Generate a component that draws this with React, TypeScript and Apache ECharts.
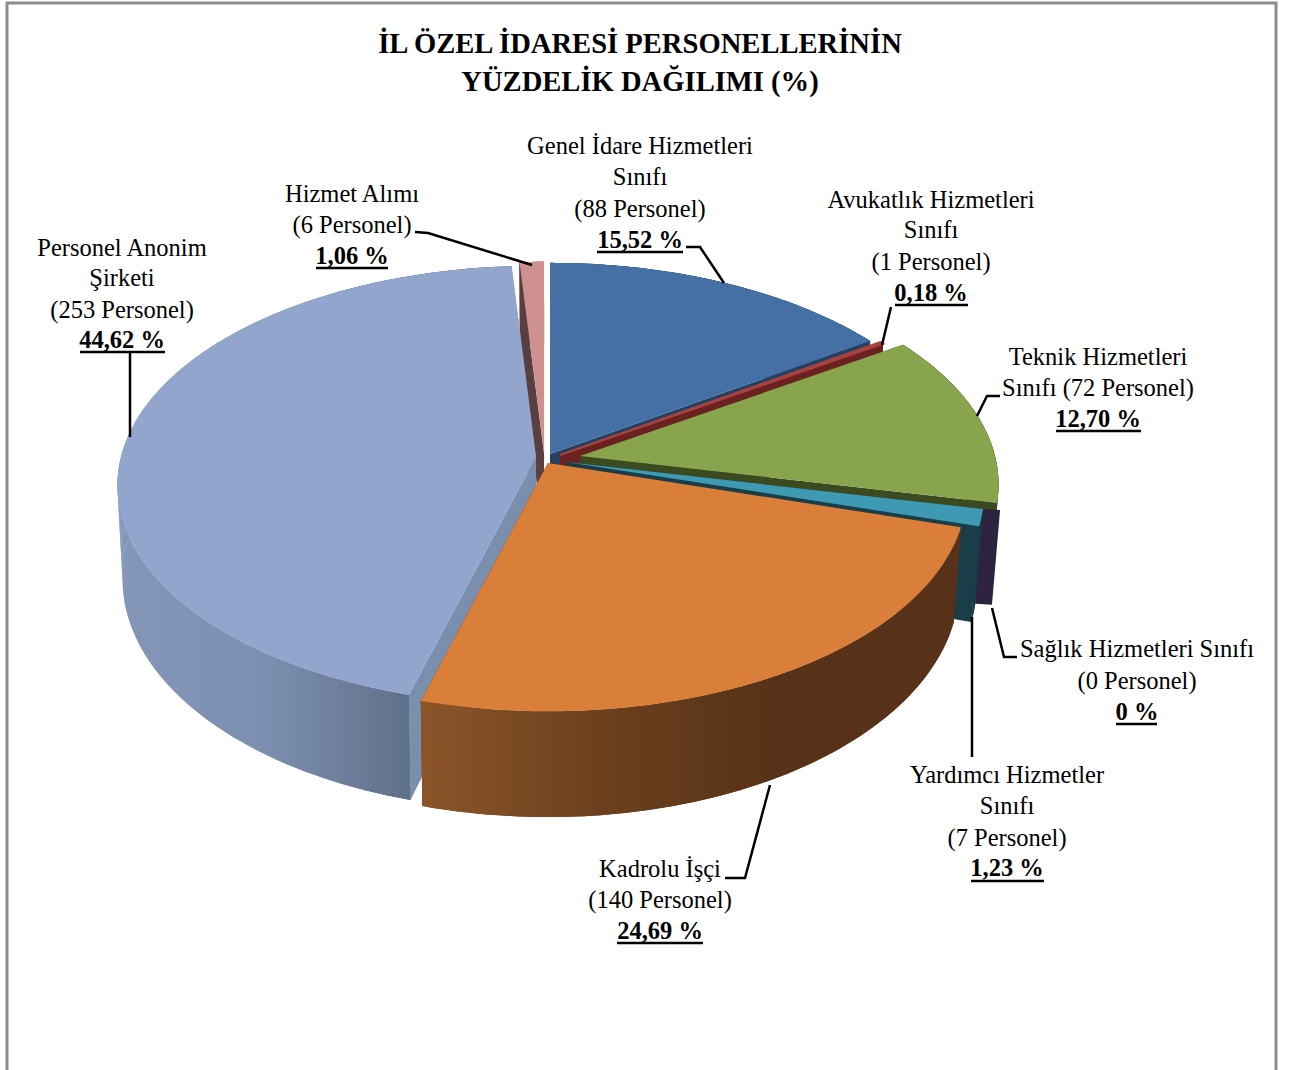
import React, { useEffect, useRef } from "react";
import * as echarts from "echarts";

const categories = [
  "Genel İdare Hizmetleri Sınıfı",
  "Avukatlık Hizmetleri Sınıfı",
  "Teknik Hizmetleri Sınıfı",
  "Sağlık Hizmetleri Sınıfı",
  "Yardımcı Hizmetler Sınıfı",
  "Kadrolu İşçi",
  "Personel Anonim Şirketi",
  "Hizmet Alımı",
];
const percentValues = [15.52, 0.18, 12.7, 0, 1.23, 24.69, 44.62, 1.06];
const personnelCounts = [88, 1, 72, 0, 7, 140, 253, 6];
const titleLines = ["İL ÖZEL İDARESİ PERSONELLERİNİN", "YÜZDELİK DAĞILIMI (%)"];

// Styling of each slice, same order as categories.
const apexes = [[550, 454], [560, 455], [580, 456], [583, 463], [566, 462], [548, 463], [536, 457], [544, 453]];
const topColors = ["#4470A5", "#A8413F", "#88A44C", "#2D233F", "#3E9AB3", "#D97F39", "#92A6CD", "#CF9190"];
const wallColors = ["#26405F", "#6A211F", "#3C4A20", "#2D233F", "#193D49", "#583218", "#7A8FAE", "#5A3F40"];
const drawOrder = [7, 6, 0, 1, 2, 4, 3, 5];

const RX = 415, RY = 216, PERSP = 0.13, DEPTH = 92, VX = 550;

type Pt = { x: number; y: number; p: number };
const rim = (a: number[], deg: number): Pt => {
  const t = (deg * Math.PI) / 180;
  const X = Math.sin(t), Y = -Math.cos(t);
  const p = 1 / (1 - PERSP * Y);
  return { x: a[0] + RX * X * p, y: a[1] + RY * Y * p, p };
};
const down = (q: Pt): number[] => [VX + (q.x - VX) * (q.x < VX ? 0.988 : 0.982), q.y + DEPTH * q.p];
const apexPt = (a: number[]): Pt => ({ x: a[0], y: a[1], p: 1 });
const xy = (q: Pt): number[] => [q.x, q.y];
const arcPts = (a: number[], s: number, e: number): Pt[] => {
  const out: Pt[] = [];
  const n = Math.max(1, Math.ceil(e - s));
  for (let i = 0; i <= n; i++) out.push(rim(a, s + ((e - s) * i) / n));
  return out;
};
const wall = (q1: Pt, q2: Pt) => [xy(q1), xy(q2), down(q2), down(q1)];

const outerFill = (idx: number) => {
  if (idx === 5)
    return new echarts.graphic.LinearGradient(421, 0, 961, 0, [
      { offset: 0, color: "#8B5529" },
      { offset: 0.35, color: "#6A3F1D" },
      { offset: 0.65, color: "#583218" },
      { offset: 1, color: "#583218" },
    ], true);
  if (idx === 6)
    return new echarts.graphic.LinearGradient(118, 0, 536, 0, [
      { offset: 0, color: "#8497B9" },
      { offset: 0.35, color: "#7C8FB0" },
      { offset: 0.7, color: "#5F7089" },
      { offset: 1, color: "#5F7089" },
    ], true);
  return wallColors[idx];
};

const renderSlice = (_p: any, api: any) => {
  const idx = api.value(0) as number;
  const value = percentValues[idx];
  let startPct = 0;
  for (let i = 0; i < idx; i++) startPct += percentValues[i];
  const s = startPct * 3.6;
  const e = (startPct + value) * 3.6;
  const a = apexes[idx];
  const children: any[] = [];
  const poly = (points: number[][], fill: any, stroke: string = "none") => ({
    type: "polygon",
    shape: { points },
    style: { fill, stroke, lineWidth: stroke === "none" ? 0 : 2 },
  });
  if (value === 0) {
    // a zero share leaves only its thin dark wall on the rim
    const q1 = rim(apexes[4], s);
    const q2 = rim(a, s);
    children.push(poly(wall(q1, q2), wallColors[idx]));
    return { type: "group", children };
  }
  const arc = arcPts(a, s, e);
  const apex = apexPt(a);
  children.push(poly(wall(apex, rim(a, s)), wallColors[idx]));
  children.push(poly(wall(apex, rim(a, e)), wallColors[idx]));
  const fill = outerFill(idx);
  const outer = [...arc.map(xy), ...arc.slice().reverse().map(down)];
  children.push(poly(outer, fill));
  // the side is swept segment by segment so that its silhouette stays straight at the tangent
  for (let i = 0; i < arc.length - 1; i++) children.push(poly(wall(arc[i], arc[i + 1]), fill));
  // the thinnest slice would vanish without an outline of its own colour
  children.push(poly([a, ...arc.map(xy)], topColors[idx], value < 0.5 ? topColors[idx] : "none"));
  return { type: "group", children };
};

const FONT = '"Liberation Serif", "Times New Roman", serif';
const LABEL_SIZE = 24.5;

type Lab = { cx: number; ys: number[]; lines: string[]; ul: number[] };
const labels: Lab[] = [
  { cx: 640, ys: [145.5, 176.5, 208.5, 239.5], lines: ["Genel İdare Hizmetleri", "Sınıfı", `(${personnelCounts[0]} Personel)`, "15,52 %"], ul: [597, 683, 252] },
  { cx: 931, ys: [199.5, 229.5, 261.5, 292.5], lines: ["Avukatlık Hizmetleri", "Sınıfı", `(${personnelCounts[1]} Personel)`, "0,18 %"], ul: [895, 968, 305] },
  { cx: 1098, ys: [356.5, 387.5, 418.5], lines: ["Teknik Hizmetleri", `Sınıfı (${personnelCounts[2]} Personel)`, "12,70 %"], ul: [1056, 1141, 431] },
  { cx: 1137, ys: [648.5, 680.5, 711.5], lines: ["Sağlık Hizmetleri Sınıfı", `(${personnelCounts[3]} Personel)`, "0 %"], ul: [1116, 1157, 724] },
  { cx: 1007, ys: [774.5, 805.5, 837.5, 867.5], lines: ["Yardımcı Hizmetler", "Sınıfı", `(${personnelCounts[4]} Personel)`, "1,23 %"], ul: [971, 1044, 881] },
  { cx: 660, ys: [868.5, 899.5, 930.5], lines: ["Kadrolu İşçi", `(${personnelCounts[5]} Personel)`, "24,69 %"], ul: [617, 703, 943] },
  { cx: 122, ys: [247.5, 277.5, 309.5, 339.5], lines: ["Personel Anonim", "Şirketi", `(${personnelCounts[6]} Personel)`, "44,62 %"], ul: [80, 165, 352] },
  { cx: 352, ys: [193.5, 224.5, 255.5], lines: ["Hizmet Alımı", `(${personnelCounts[7]} Personel)`, "1,06 %"], ul: [316, 388, 268] },
];

const leaders: number[][][] = [
  [[415, 232], [428, 233], [532, 265]],
  [[686, 247], [700, 247], [724, 283]],
  [[882, 345], [891, 307]],
  [[977, 416], [987, 396], [1000, 396]],
  [[992, 608], [1004, 657], [1017, 657]],
  [[972, 617], [972, 757]],
  [[770, 785], [745, 878], [725, 878]],
  [[130, 352], [130, 437]],
];

export default function App() {
  const ref = useRef<HTMLDivElement>(null);
  useEffect(() => {
    const chart = echarts.init(ref.current!, undefined, { renderer: "svg" });
    const graphic: any[] = [
      {
        type: "rect",
        shape: { x: 7, y: 3, width: 1269, height: 1100 },
        style: { fill: "#fff", stroke: "#8C8C8C", lineWidth: 3 },
        z: -1,
      },
    ];
    titleLines.forEach((t, i) =>
      graphic.push({
        type: "text",
        x: 640,
        y: [43, 81][i],
        style: { text: t, font: `bold 28.6px ${FONT}`, fill: "#000", textAlign: "center", textVerticalAlign: "middle" },
      })
    );
    labels.forEach((l) => {
      l.lines.forEach((t, i) =>
        graphic.push({
          type: "text",
          x: l.cx,
          y: l.ys[i],
          style: {
            text: t,
            font: `${i === l.lines.length - 1 ? "bold " : ""}${LABEL_SIZE}px ${FONT}`,
            fill: "#000",
            textAlign: "center",
            textVerticalAlign: "middle",
          },
        })
      );
      graphic.push({
        type: "line",
        shape: { x1: l.ul[0], y1: l.ul[2], x2: l.ul[1], y2: l.ul[2] },
        style: { stroke: "#000", lineWidth: 2.5 },
      });
    });
    leaders.forEach((pts) =>
      graphic.push({
        type: "polyline",
        shape: { points: pts },
        style: { stroke: "#000", lineWidth: 2.5, fill: "none" },
        z: 10,
      })
    );
    chart.setOption({
      animation: false,
      backgroundColor: "#fff",
      graphic,
      series: [
        {
          type: "custom",
          name: "İl Özel İdaresi Personeli",
          coordinateSystem: "none",
          renderItem: renderSlice,
          silent: true,
          z: 5,
          data: drawOrder.map((i) => ({ name: categories[i], value: [i, percentValues[i]] })),
        },
      ],
    });
    return () => chart.dispose();
  }, []);
  return <div ref={ref} style={{ position: "absolute", left: 0, top: 0, width: 1291, height: 1070 }} />;
}
